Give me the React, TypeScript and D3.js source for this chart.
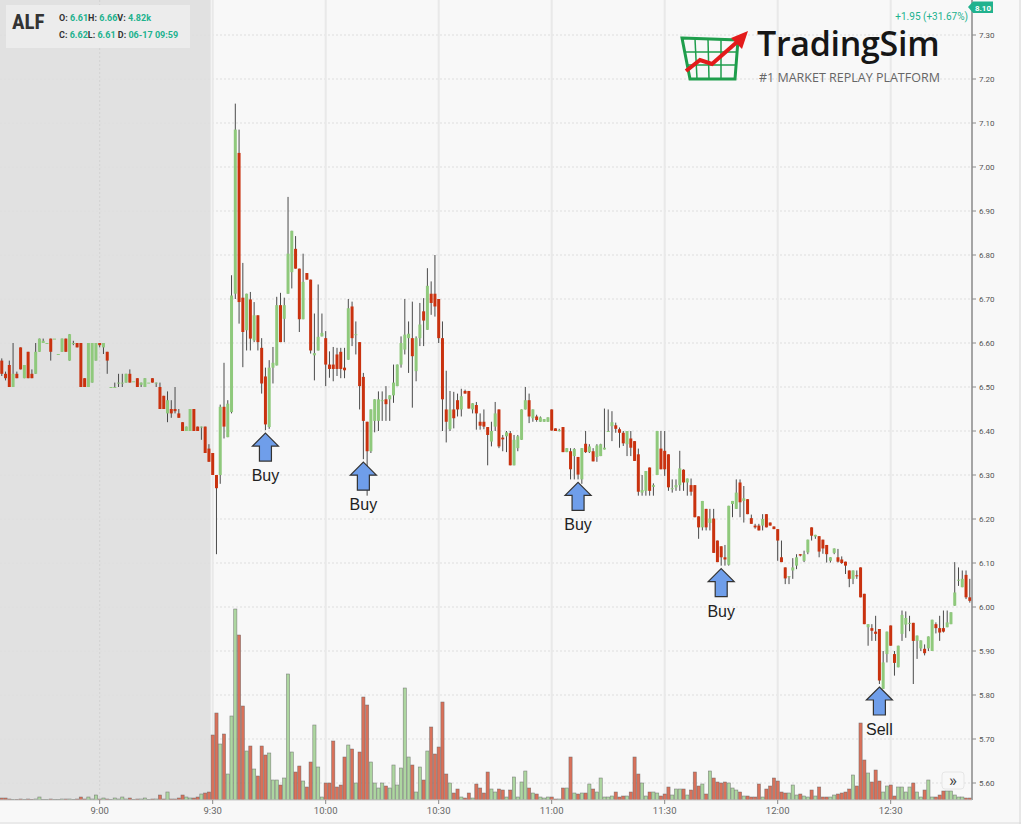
import React from "react";
import * as d3 from "d3";

// ---------- DATA ----------
const symbol = "ALF";
const firstBarTime = "8:34";
const timeTicks = ["9:00", "9:30", "10:00", "10:30", "11:00", "11:30", "12:00", "12:30"];
const priceTicks = [5.6, 5.7, 5.8, 5.9, 6.0, 6.1, 6.2, 6.3, 6.4, 6.5, 6.6, 6.7, 6.8, 6.9, 7.0, 7.1, 7.2, 7.3];
const marketOpen = "9:30";
const lastPriceLabel = "8.10";
const changeLabel = "+1.95 (+31.67%)";
const legendRow1 = [["O:", "6.61"], ["H:", "6.66"], ["V:", "4.82k"]];
const legendRow2 = [["C:", "6.62"], ["L:", "6.61"], [" D:", "06-17 09:59"]];

// one-minute bars: [open, high, low, close]
const ohlc: [number, number, number, number][] = [
  // 0-9
  [6.56,6.565,6.525,6.53],[6.53,6.535,6.515,6.52],[6.55,6.56,6.50,6.50],[6.50,6.60,6.50,6.53],[6.53,6.535,6.52,6.52],[6.59,6.59,6.54,6.54],[6.52,6.55,6.52,6.55],[6.58,6.58,6.52,6.52],[6.53,6.54,6.52,6.52],[6.53,6.60,6.53,6.58],
  // 10-19
  [6.58,6.61,6.58,6.61],[6.60,6.61,6.60,6.605],[6.60,6.60,6.60,6.60],[6.61,6.61,6.56,6.58],[6.61,6.61,6.61,6.61],[6.575,6.575,6.575,6.575],[6.58,6.61,6.58,6.61],[6.61,6.61,6.58,6.58],[6.56,6.62,6.56,6.62],[6.60,6.605,6.595,6.60],
  // 20-29
  [6.60,6.60,6.59,6.59],[6.60,6.60,6.50,6.50],[6.52,6.52,6.50,6.50],[6.50,6.60,6.50,6.60],[6.51,6.60,6.51,6.60],[6.56,6.60,6.56,6.60],[6.60,6.60,6.59,6.595],[6.59,6.60,6.575,6.60],[6.58,6.58,6.53,6.56],[6.50,6.50,6.50,6.50],
  // 30-39
  [6.50,6.51,6.50,6.50],[6.51,6.53,6.50,6.51],[6.51,6.53,6.50,6.51],[6.51,6.53,6.51,6.53],[6.53,6.54,6.51,6.51],[6.513,6.513,6.513,6.513],[6.52,6.52,6.50,6.50],[6.505,6.51,6.50,6.51],[6.50,6.52,6.50,6.52],[6.51,6.51,6.51,6.51],
  // 40-49
  [6.52,6.52,6.51,6.51],[6.51,6.51,6.50,6.51],[6.50,6.51,6.45,6.45],[6.48,6.48,6.45,6.45],[6.44,6.49,6.42,6.47],[6.45,6.47,6.43,6.44],[6.45,6.50,6.44,6.445],[6.44,6.45,6.43,6.43],[6.42,6.42,6.40,6.40],[6.40,6.41,6.40,6.41],
  // 50-59
  [6.40,6.45,6.40,6.45],[6.45,6.45,6.40,6.40],[6.41,6.41,6.40,6.40],[6.41,6.41,6.38,6.41],[6.41,6.41,6.35,6.35],[6.36,6.37,6.33,6.33],[6.35,6.35,6.30,6.30],[6.30,6.30,6.12,6.27],[6.30,6.46,6.28,6.455],[6.455,6.555,6.383,6.41],
  // 60-69
  [6.386,6.47,6.386,6.462],[6.443,6.754,6.44,6.708],[6.712,7.144,6.70,7.085],[7.032,7.085,6.644,6.693],[6.703,6.782,6.545,6.625],[6.629,6.712,6.583,6.712],[6.699,6.716,6.583,6.61],[6.606,6.693,6.602,6.663],[6.663,6.663,6.583,6.602],[6.589,6.611,6.485,6.508],
  // 70-79
  [6.524,6.544,6.402,6.415],[6.409,6.561,6.405,6.544],[6.544,6.591,6.508,6.555],[6.549,6.705,6.549,6.686],[6.686,6.714,6.602,6.602],[6.655,6.703,6.602,6.686],[6.712,6.932,6.712,6.803],[6.761,6.855,6.724,6.855],[6.814,6.843,6.769,6.769],[6.769,6.769,6.625,6.654],
  // 80-89
  [6.654,6.803,6.654,6.739],[6.759,6.759,6.744,6.744],[6.744,6.744,6.576,6.583],[6.572,6.667,6.515,6.577],[6.583,6.733,6.583,6.614],[6.615,6.667,6.615,6.623],[6.611,6.627,6.502,6.551],[6.551,6.581,6.521,6.541],[6.551,6.591,6.513,6.541],[6.574,6.589,6.525,6.541],
  // 90-99
  [6.58,6.589,6.52,6.541],[6.544,6.589,6.52,6.538],[6.562,6.70,6.562,6.679],[6.683,6.694,6.593,6.611],[6.62,6.649,6.574,6.62],[6.602,6.602,6.449,6.502],[6.523,6.532,6.336,6.423],[6.421,6.421,6.253,6.354],[6.354,6.449,6.35,6.449],[6.423,6.472,6.397,6.472],
  // 100-109
  [6.423,6.49,6.40,6.472],[6.47,6.49,6.423,6.47],[6.472,6.502,6.423,6.461],[6.472,6.481,6.423,6.481],[6.481,6.551,6.464,6.51],[6.502,6.551,6.502,6.551],[6.551,6.615,6.544,6.60],[6.585,6.70,6.574,6.619],[6.611,6.649,6.532,6.621],[6.611,6.694,6.453,6.57],
  // 110-119
  [6.536,6.615,6.513,6.611],[6.611,6.691,6.593,6.642],[6.672,6.702,6.593,6.651],[6.63,6.77,6.63,6.73],[6.712,6.74,6.664,6.691],[6.712,6.80,6.66,6.683],[6.70,6.70,6.60,6.611],[6.611,6.649,6.40,6.472],[6.449,6.537,6.374,6.421],[6.404,6.491,6.40,6.449],
  // 120-129
  [6.449,6.489,6.406,6.429],[6.47,6.485,6.433,6.449],[6.449,6.496,6.433,6.479],[6.491,6.494,6.485,6.485],[6.491,6.491,6.451,6.451],[6.449,6.463,6.44,6.463],[6.459,6.466,6.403,6.44],[6.421,6.44,6.403,6.412],[6.421,6.449,6.404,6.41],[6.409,6.409,6.322,6.391],
  // 130-139
  [6.376,6.421,6.365,6.40],[6.41,6.466,6.40,6.44],[6.449,6.449,6.361,6.365],[6.385,6.391,6.354,6.381],[6.388,6.40,6.352,6.397],[6.395,6.40,6.322,6.322],[6.322,6.391,6.322,6.38],[6.361,6.391,6.354,6.388],[6.38,6.449,6.38,6.449],[6.449,6.50,6.449,6.47],
  // 140-149
  [6.47,6.485,6.418,6.433],[6.429,6.449,6.421,6.449],[6.433,6.437,6.421,6.425],[6.421,6.433,6.421,6.431],[6.421,6.427,6.421,6.427],[6.421,6.431,6.421,6.431],[6.449,6.449,6.401,6.401],[6.406,6.406,6.40,6.40],[6.402,6.405,6.399,6.402],[6.409,6.409,6.352,6.352],
  // 150-159
  [6.352,6.361,6.352,6.361],[6.354,6.361,6.29,6.313],[6.343,6.361,6.29,6.359],[6.341,6.341,6.29,6.301],[6.29,6.361,6.28,6.361],[6.371,6.40,6.35,6.352],[6.352,6.37,6.35,6.365],[6.354,6.361,6.331,6.331],[6.341,6.37,6.33,6.367],[6.343,6.371,6.343,6.37],
  // 160-169
  [6.358,6.451,6.358,6.362],[6.40,6.449,6.40,6.40],[6.411,6.445,6.377,6.42],[6.413,6.419,6.396,6.405],[6.404,6.408,6.362,6.396],[6.396,6.40,6.366,6.372],[6.37,6.40,6.343,6.40],[6.383,6.40,6.343,6.362],[6.377,6.377,6.332,6.332],[6.347,6.36,6.253,6.262],
  // 170-179
  [6.26,6.30,6.253,6.266],[6.264,6.309,6.253,6.309],[6.317,6.317,6.253,6.264],[6.273,6.281,6.253,6.277],[6.30,6.40,6.30,6.40],[6.36,6.40,6.313,6.313],[6.355,6.40,6.298,6.313],[6.347,6.347,6.264,6.272],[6.27,6.29,6.26,6.27],[6.272,6.29,6.264,6.277],
  // 180-189
  [6.277,6.355,6.264,6.315],[6.312,6.313,6.264,6.283],[6.283,6.292,6.253,6.292],[6.277,6.292,6.253,6.262],[6.277,6.277,6.204,6.204],[6.206,6.206,6.155,6.181],[6.181,6.241,6.174,6.241],[6.223,6.223,6.174,6.181],[6.191,6.223,6.174,6.201],[6.201,6.223,6.123,6.123],
  // 190-199
  [6.151,6.151,6.102,6.102],[6.138,6.138,6.094,6.113],[6.113,6.141,6.094,6.108],[6.096,6.23,6.094,6.23],[6.234,6.241,6.204,6.241],[6.223,6.29,6.223,6.26],[6.283,6.29,6.204,6.238],[6.241,6.275,6.192,6.247],[6.245,6.245,6.211,6.211],[6.202,6.21,6.189,6.189],
  // 200-209
  [6.185,6.189,6.178,6.181],[6.185,6.189,6.174,6.174],[6.185,6.211,6.174,6.20],[6.211,6.211,6.181,6.181],[6.192,6.192,6.185,6.185],[6.183,6.183,6.177,6.177],[6.177,6.177,6.105,6.151],[6.113,6.151,6.102,6.102],[6.09,6.09,6.052,6.065],[6.07,6.07,6.052,6.07],
  // 210-219
  [6.083,6.111,6.064,6.09],[6.094,6.12,6.086,6.113],[6.12,6.12,6.115,6.117],[6.105,6.128,6.102,6.12],[6.124,6.153,6.12,6.153],[6.181,6.181,6.151,6.162],[6.16,6.164,6.155,6.164],[6.161,6.161,6.113,6.126],[6.153,6.153,6.121,6.133],[6.141,6.141,6.101,6.12],
  // 220-229
  [6.105,6.113,6.101,6.113],[6.123,6.133,6.12,6.133],[6.113,6.132,6.101,6.103],[6.108,6.115,6.098,6.10],[6.103,6.103,6.075,6.094],[6.083,6.083,6.045,6.064],[6.064,6.083,6.052,6.083],[6.072,6.083,6.064,6.07],[6.09,6.09,6.022,6.022],[6.03,6.03,5.961,5.961],
  // 230-239
  [5.954,5.961,5.912,5.961],[5.952,5.961,5.923,5.946],[5.944,5.98,5.923,5.939],[5.95,5.95,5.825,5.833],[5.814,5.90,5.814,5.874],[5.893,5.944,5.874,5.944],[5.958,5.958,5.912,5.912],[5.893,5.90,5.844,5.873],[5.863,5.912,5.863,5.912],[5.939,5.992,5.923,5.982],
  // 240-249
  [5.96,5.99,5.93,5.975],[5.964,5.98,5.945,5.964],[5.964,5.964,5.825,5.923],[5.923,5.935,5.882,5.935],[5.906,5.924,5.90,5.924],[5.905,5.915,5.89,5.895],[5.906,5.933,5.90,5.933],[5.90,5.971,5.90,5.971],[5.961,5.965,5.94,5.952],[5.952,5.98,5.923,5.942],
  // 250-257
  [5.952,5.992,5.942,5.944],[5.954,5.992,5.954,5.965],[5.961,5.988,5.961,5.988],[6.003,6.102,6.003,6.033],[6.062,6.09,6.048,6.062],[6.045,6.083,6.045,6.064],[6.073,6.083,6.018,6.022],[6.022,6.064,6.01,6.014],
];

// volume per bar (hundreds of shares)
const volumes: number[] = [
  2,2,1,0.5,0.5,1,0.5,1,0.5,1,
  3,0.5,0.5,1,0.5,0.5,1,1,1,0.5,
  1,3,1,3,1,5,1,2,1,0.5,
  2,1,3,1,2,0.5,1,1,2,0.5,
  1,1,5,1,8,1,1,2,5,3,
  2,2,3,6,7,8,65,87,56,66,
  26,84,191,165,94,49,54,31,24,54,
  45,47,20,20,15,22,126,48,28,34,
  19,13,38,75,33,3,17,17,59,13,
  15,43,55,51,17,48,103,95,38,17,
  12,17,14,12,35,15,32,112,43,35,
  8,33,20,49,73,46,53,98,26,17,
  7,11,3,2,7,2,16,12,7,28,
  11,8,11,10,3,10,23,3,18,29,
  12,7,6,3,2,3,3,1,1,12,
  12,43,7,6,7,7,16,11,8,22,
  3,3,4,8,3,4,4,8,43,26,
  17,4,8,8,7,4,6,13,5,11,
  11,11,5,10,28,14,16,6,29,22,
  18,17,18,17,12,10,8,4,4,3,
  3,16,3,11,14,22,19,8,7,7,
  15,5,6,4,3,10,4,13,3,3,
  3,5,6,7,8,11,25,14,77,40,
  27,18,30,19,8,14,15,4,13,13,
  8,13,17,8,3,10,20,3,3,5,
  9,9,9,5,3,3,2,2,
];

const signalBars = [70, 96, 153, 191, 233];
const signalLabels = ["Buy", "Buy", "Buy", "Buy", "Sell"];

// ---------- HELPERS ----------
const toMin = (s: string) => {
  const [h, m] = s.split(":").map(Number);
  return h * 60 + m;
};

const W = 1024;
const H = 828;
const AXIS_X = 972;
const PLOT_BOTTOM = 800;

const UP = "#8fc97c";
const DOWN = "#c9320f";
const TEAL = "#21b28e";

export default function App() {
  const t0 = toMin(firstBarTime);
  const x = d3.scaleLinear().domain([toMin("9:00"), toMin("12:30")]).range([99.7, 890.7]);
  const y = d3.scaleLinear().domain([5.6, 7.3]).range([783, 35]);
  const v = d3.scaleLinear().domain([0, 200]).range([0, 200]);

  const bars = ohlc.map((d, i) => {
    const [o, h, l, c] = d;
    return {
      i,
      o,
      c,
      h: Math.max(h, o, c),
      l: Math.min(l, o, c),
      up: c >= o,
      cx: x(t0 + i),
      vol: volumes[i] ?? 0,
    };
  });

  const bodyW = 3;
  const openX = x(toMin(marketOpen)) - 2;

  return (
    <div style={{ position: "absolute", left: 0, top: 0, width: W, height: H }}>
      <svg width={W} height={H} style={{ display: "block", fontFamily: "Roboto, Arial, sans-serif" }}>
        {/* background */}
        <rect x={0} y={0} width={W} height={H} fill="#ffffff" />
        <rect x={0} y={0} width={1021} height={824} fill="#f8f8f8" />
        {/* premarket shading */}
        <rect x={0} y={0} width={openX} height={PLOT_BOTTOM} fill="#e1e1e1" />

        {/* horizontal grid */}
        {priceTicks.map((p) => (
          <line key={"hg" + p} x1={0} x2={AXIS_X} y1={y(p)} y2={y(p)} stroke="#dedede" strokeWidth={1} strokeDasharray="2,2" />
        ))}
        {/* vertical grid */}
        {timeTicks.map((t) => (
          <line
            key={"vg" + t}
            x1={x(toMin(t))}
            x2={x(toMin(t))}
            y1={0}
            y2={PLOT_BOTTOM}
            stroke={x(toMin(t)) < openX ? "#d2d2d2" : "#e9e9e9"}
            strokeWidth={x(toMin(t)) < openX ? 1 : 2}
            strokeDasharray={x(toMin(t)) < openX ? "2,2" : undefined}
          />
        ))}

        {/* volume bars */}
        {bars.map((b) => {
          const hgt = Math.max(0.6, v(b.vol));
          return (
            <rect
              key={"v" + b.i}
              x={b.cx - 1.6}
              y={PLOT_BOTTOM - hgt}
              width={3.2}
              height={hgt}
              fill={b.up ? "#add6a0" : "#d9715a"}
              stroke="#666"
              strokeOpacity={0.75}
              strokeWidth={0.6}
            />
          );
        })}

        {/* candles */}
        {bars.map((b) => {
          const top = y(Math.max(b.o, b.c));
          const bot = y(Math.min(b.o, b.c));
          return (
            <g key={"c" + b.i}>
              <line x1={b.cx} x2={b.cx} y1={y(b.h)} y2={y(b.l)} stroke="#4a4a4a" strokeWidth={1} />
              <rect
                x={b.cx - bodyW / 2}
                y={top}
                width={bodyW}
                height={Math.max(1, bot - top)}
                fill={b.up ? UP : DOWN}
              />
            </g>
          );
        })}

        {/* signal arrows */}
        {signalBars.map((idx, k) => {
          const b = bars[idx];
          const ty = y(b.l) + 3;
          const cx = b.cx;
          const path = `M${cx},${ty} L${cx + 13},${ty + 13} L${cx + 6},${ty + 13} L${cx + 6},${ty + 28} L${cx - 6},${ty + 28} L${cx - 6},${ty + 13} L${cx - 13},${ty + 13} Z`;
          return (
            <g key={"s" + k}>
              <path d={path} fill="#6f9eea" stroke="#333" strokeWidth={1.2} strokeLinejoin="miter" />
              <text x={cx} y={ty + 48} textAnchor="middle" fontSize={16} fontFamily="'Liberation Sans', Arial, sans-serif" fill="#222">
                {signalLabels[k]}
              </text>
            </g>
          );
        })}

        {/* right axis */}
        <line x1={AXIS_X} x2={AXIS_X} y1={0} y2={PLOT_BOTTOM} stroke="#8a8a8a" strokeWidth={1.5} />
        {priceTicks.map((p) => (
          <g key={"pt" + p}>
            <line x1={AXIS_X} x2={AXIS_X + 4} y1={y(p)} y2={y(p)} stroke="#8a8a8a" />
            <text x={AXIS_X + 7} y={y(p) + 3} fontSize={8} fill="#555">
              {p.toFixed(2)}
            </text>
          </g>
        ))}
        {/* last price label */}
        <path d={`M${AXIS_X - 4},7 L${AXIS_X + 1},1.5 L993,1.5 L993,13 L${AXIS_X + 1},13 Z`} fill={TEAL} />
        <text x={983} y={10.5} textAnchor="middle" fontSize={8} fontWeight="bold" fill="#fff">
          {lastPriceLabel}
        </text>
        <text x={968} y={20} textAnchor="end" fontSize={10} fill={TEAL}>
          {changeLabel}
        </text>

        {/* bottom axis */}
        <rect x={0} y={PLOT_BOTTOM} width={1021} height={23} fill="#f8f8f8" />
        <line x1={0} x2={AXIS_X} y1={PLOT_BOTTOM} y2={PLOT_BOTTOM} stroke="#c8c8c8" />
        <line x1={0} x2={1021} y1={823} y2={823} stroke="#dcdcdc" />
        {timeTicks.map((t) => (
          <g key={"tt" + t}>
            <line x1={x(toMin(t))} x2={x(toMin(t))} y1={PLOT_BOTTOM} y2={PLOT_BOTTOM + 4} stroke="#888" />
            <text x={x(toMin(t))} y={814} textAnchor="middle" fontSize={9.5} fill="#666">
              {t}
            </text>
          </g>
        ))}
        <line x1={1020} x2={1020} y1={0} y2={824} stroke="#d6d6d6" />

        {/* scroll button */}
        <rect x={942} y={772} width={22} height={17} rx={3} fill="#f8f8f8" stroke="#e6e6e6" />
        <text x={953} y={786} textAnchor="middle" fontSize={17} fill="#444">
          »
        </text>

        {/* legend box */}
        <rect x={6} y={5} width={184} height={43} fill="#ececec" />
        <text x={12} y={29} fontSize={21} fontWeight="bold" fill="#333" fontFamily="'Roboto Condensed', Roboto, Arial, sans-serif">
          {symbol}
        </text>
        <text x={59} y={21} fontSize={9} fontWeight="bold">
          {legendRow1.map(([k, val]) => (
            <React.Fragment key={k}>
              <tspan fill="#333">{k} </tspan>
              <tspan fill={TEAL}>{val}</tspan>
            </React.Fragment>
          ))}
        </text>
        <text x={59} y={38} fontSize={9} fontWeight="bold">
          {legendRow2.map(([k, val]) => (
            <React.Fragment key={k}>
              <tspan fill="#333">{k} </tspan>
              <tspan fill={TEAL}>{val}</tspan>
            </React.Fragment>
          ))}
        </text>

        {/* logo */}
        <g>
          <g stroke="#1f9e4c" fill="none">
            <path d="M682,38 L738,40 L735,79 L690,79 Z" strokeWidth={3} />
            <line x1={695} x2={697} y1={39} y2={79} strokeWidth={1.5} />
            <line x1={708} x2={709} y1={39} y2={79} strokeWidth={1.5} />
            <line x1={721} x2={721} y1={40} y2={79} strokeWidth={1.5} />
            <line x1={684} x2={737} y1={52} y2={52} strokeWidth={1.5} />
            <line x1={686} x2={736} y1={65} y2={65} strokeWidth={1.5} />
          </g>
          <polyline points="686,71 700,60 712,64 737,42" fill="none" stroke="#e31b1b" strokeWidth={4} />
          <path d="M748,31 L731,38 L742,49 Z" fill="#e31b1b" />
          <text x={757} y={56} fontSize={34} fontWeight={600} fill="#161616" fontFamily="'Open Sans', 'Noto Sans', sans-serif" letterSpacing={-0.3}>
            TradingSim
          </text>
          <text x={759} y={82} fontSize={12.5} fill="#666" fontFamily="'Open Sans', 'Noto Sans', sans-serif">
            #1 MARKET REPLAY PLATFORM
          </text>
        </g>
      </svg>
    </div>
  );
}
